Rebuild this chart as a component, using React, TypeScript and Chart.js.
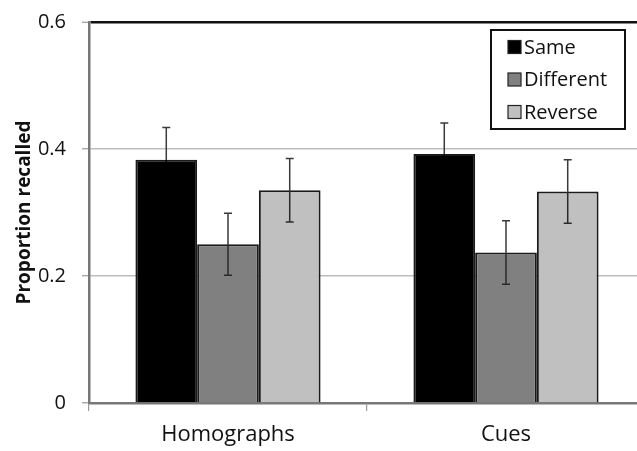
import React, { useEffect, useRef } from "react";
import { Chart, registerables } from "chart.js";

Chart.register(...registerables);

const categories = ["Homographs", "Cues"];
const seriesNames = ["Same", "Different", "Reverse"];
const sameValues = [0.383, 0.392];
const differentValues = [0.25, 0.237];
const reverseValues = [0.335, 0.333];
const sameErrors = [0.051, 0.049];
const differentErrors = [0.049, 0.05];
const reverseErrors = [0.05, 0.05];
const yTicks = [0, 0.2, 0.4, 0.6];

const FONT = "'Open Sans', sans-serif";

const errorBarPlugin = {
  id: "errorBars",
  afterDatasetsDraw(chart: any) {
    const ctx = chart.ctx;
    const yScale = chart.scales.y;
    ctx.save();
    ctx.lineWidth = 1.5;
    chart.data.datasets.forEach((ds: any, di: number) => {
      const meta = chart.getDatasetMeta(di);
      meta.data.forEach((bar: any, i: number) => {
        const v = ds.data[i];
        const e = ds.errors[i];
        const x = bar.x;
        const yTop = yScale.getPixelForValue(v + e);
        const yBot = yScale.getPixelForValue(v - e);
        const yBar = bar.y;
        ctx.strokeStyle = "#3a3a3a";
        ctx.beginPath();
        ctx.moveTo(x, yTop);
        ctx.lineTo(x, yBar);
        ctx.moveTo(x - 4, yTop);
        ctx.lineTo(x + 4, yTop);
        ctx.stroke();
        ctx.strokeStyle = ds.backgroundColor === "#000000" ? "#000000" : "#2a2a2a";
        ctx.beginPath();
        ctx.moveTo(x, yBar);
        ctx.lineTo(x, yBot);
        ctx.moveTo(x - 4, yBot);
        ctx.lineTo(x + 4, yBot);
        ctx.stroke();
      });
    });
    ctx.restore();
  },
};

const legendPlugin = {
  id: "boxLegend",
  afterDraw(chart: any) {
    const ctx = chart.ctx;
    const bx = 491;
    const by = 30;
    const bw = 134;
    const bh = 99;
    ctx.save();
    ctx.fillStyle = "#ffffff";
    ctx.fillRect(bx, by, bw, bh);
    ctx.strokeStyle = "#111111";
    ctx.lineWidth = 2;
    ctx.strokeRect(bx, by, bw, bh);
    ctx.font = `20px ${FONT}`;
    ctx.textBaseline = "middle";
    ctx.textAlign = "left";
    chart.data.datasets.forEach((ds: any, i: number) => {
      const cy = 47 + i * 32.5;
      ctx.fillStyle = ds.backgroundColor;
      ctx.fillRect(508, cy - 6.5, 13, 13);
      ctx.strokeStyle = "#222";
      ctx.lineWidth = 1.2;
      ctx.strokeRect(508, cy - 6.5, 13, 13);
      ctx.fillStyle = "#111";
      ctx.fillText(ds.label, 524, cy + 1);
    });
    ctx.restore();
  },
};

export default function App() {
  const ref = useRef<HTMLCanvasElement>(null);
  useEffect(() => {
    if (!ref.current) return;
    const colors = ["#000000", "#808080", "#c0c0c0"];
    const values = [sameValues, differentValues, reverseValues];
    const errors = [sameErrors, differentErrors, reverseErrors];
    const chart = new Chart(ref.current, {
      type: "bar",
      data: {
        labels: categories,
        datasets: seriesNames.map((name, i) => ({
          label: name,
          data: values[i],
          errors: errors[i],
          backgroundColor: colors[i],
          borderColor: "#1a1a1a",
          borderWidth: 2,
          categoryPercentage: 0.666,
          barPercentage: 1.0,
        })) as any,
      },
      options: {
        animation: false,
        responsive: false,
        maintainAspectRatio: false,
        layout: { padding: { top: 22, right: 15, bottom: 0, left: 0 } },
        plugins: {
          legend: { display: false },
          tooltip: { enabled: false },
        },
        scales: {
          x: {
            grid: {
              display: true,
              drawOnChartArea: false,
              drawTicks: true,
              tickLength: 8,
              color: "#999999",
              lineWidth: 1.2,
              offset: true,
            },
            border: { display: true, color: "#777777", width: 2.5 },
            ticks: {
              color: "#111",
              font: { family: FONT, size: 22 },
              padding: 11,
            },
            afterFit(scale: any) {
              scale.height = 48;
            },
          },
          y: {
            min: 0,
            max: 0.6,
            afterBuildTicks(scale: any) {
              scale.ticks = yTicks.map((v) => ({ value: v }));
            },
            grid: {
              color: (c: any) => (c.tick && c.tick.value === 0.6 ? "#111111" : "#bdbdbd"),
              lineWidth: (c: any) => (c.tick && c.tick.value === 0.6 ? 2.5 : 1.5),
              tickColor: "#999999",
              tickLength: 7,
              tickWidth: 1.2,
            },
            border: { display: true, color: "#777777", width: 2.5 },
            ticks: {
              color: "#111",
              font: { family: FONT, size: 20 },
              padding: 16,
              callback: (v: any) => (v === 0 ? "0" : Number(v).toFixed(1)),
            },
            title: {
              display: true,
              text: "Proportion recalled",
              color: "#111",
              font: { family: FONT, size: 19, weight: "bold" },
              padding: { top: 13, bottom: 0 },
            },
            afterFit(scale: any) {
              scale.width = 89;
              scale.paddingTop = 0;
              scale.paddingBottom = 0;
            },
          },
        },
      } as any,
      plugins: [errorBarPlugin, legendPlugin],
    });
    return () => chart.destroy();
  }, []);
  return (
    <div
      style={{
        position: "absolute",
        left: 0,
        top: 0,
        width: 637,
        height: 451,
        overflow: "hidden",
        background: "#fff",
      }}
    >
      <canvas ref={ref} width={660} height={451} style={{ width: 660, height: 451, display: "block" }} />
    </div>
  );
}
